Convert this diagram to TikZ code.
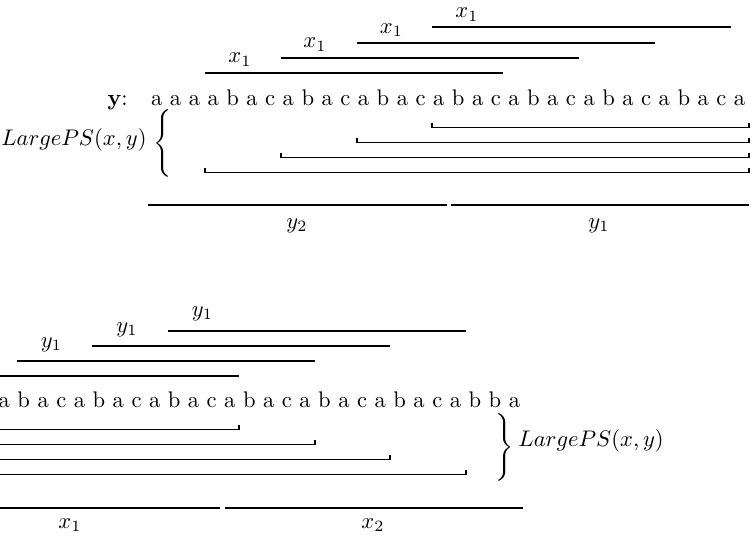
\documentclass[tikz,border=0pt]{standalone}
\begin{document}
\begin{tikzpicture}[x=0.4431pt,y=-0.4431pt,
    bar/.style={line width=0.9pt},
    span/.style={line width=0.45pt},
    lbl/.style={inner sep=0pt,anchor=base},
    txt/.style={inner sep=0pt}]
\useasboundingbox (0,0) rectangle (753,538);
\clip (0,0) rectangle (753,538);

% ---------- upper half: the string y ----------
\node[txt,anchor=base east] (ylab) at (128,105.7) {\textbf{y}:};
\node[txt,anchor=base west] (ystr) at (150.7,105.7)
  {a a a a b a c a b a c a b a c a b a c a b a c a b a c a b a c a};

% occurrences of x_1 above y
\foreach \i/\s/\e/\h/\lx/\ly in {1/205/503/72.7/240/62.7, 2/281/579/58/315/47.7,
                                 3/357/655/42.7/391.5/33.3, 4/432/731/27.3/467/17.7}{
  \coordinate (xa\i) at (\s,\h);
  \coordinate (xb\i) at (\e,\h);
  \draw[bar] (xa\i) -- (xb\i);
  \node[lbl] (xl\i) at (\lx,\ly) {$x_1$};
}

% suffixes of y below it
\foreach \i/\s/\h in {1/432/127.5, 2/357/142.5, 3/281/157.5, 4/205/172.5}{
  \coordinate (sa\i) at (\s,\h);
  \coordinate (sb\i) at (749,\h);
  \draw[span] ([yshift=1.8pt]sa\i) -- (sa\i) -- (sb\i) -- ([yshift=1.8pt]sb\i);
}

\node[txt] (lbr) at (164,143) {$\left\{\vcenter{\hbox{\rule{0pt}{31pt}}}\right.$};
\node[txt,anchor=base east] (lpsA) at (147,145) {$LargePS(x,y)$};

% factorisation y = y_2 y_1
\coordinate (y2a) at (148,205);  \coordinate (y2b) at (447,205);
\coordinate (y1a) at (451,205);  \coordinate (y1b) at (749,205);
\draw[bar] (y2a) -- (y2b);
\draw[bar] (y1a) -- (y1b);
\node[lbl] (y2l) at (297,228) {$y_2$};
\node[lbl] (y1l) at (599,228) {$y_1$};

% ---------- lower half: the string x ----------
\node[txt,anchor=base east] (xstr) at (520.5,407.7)
  {a b a c a b a c a b a c a b a c a b a c a b a c a b b a};

% occurrences of y_1 above x
\foreach \i/\s/\e/\h in {1/168/466/330.7, 2/92/390/346, 3/17/315/360.7, 4/-59/239/375.7}{
  \coordinate (ya\i) at (\s,\h);
  \coordinate (yb\i) at (\e,\h);
  \draw[bar] (ya\i) -- (yb\i);
}
\node[lbl] (yl1) at (202.5,316.4) {$y_1$};
\node[lbl] (yl2) at (127,332.4) {$y_1$};
\node[lbl] (yl3) at (51.5,347) {$y_1$};

% prefixes of x below it
\foreach \i/\e/\h in {1/239/429.5, 2/315/444.5, 3/390/459.5, 4/466/474.5}{
  \coordinate (pa\i) at (-20,\h);
  \coordinate (pb\i) at (\e,\h);
  \draw[span] (pa\i) -- (pb\i) -- ([yshift=1.8pt]pb\i);
}

\node[txt] (rbr) at (503,447) {$\left.\vcenter{\hbox{\rule{0pt}{31pt}}}\right\}$};
\node[txt,anchor=base west] (lpsB) at (518,446.5) {$LargePS(x,y)$};

% factorisation x = x_1 x_2
\coordinate (x1a) at (-5,508);   \coordinate (x1b) at (220,508);
\coordinate (x2a) at (225,508);  \coordinate (x2b) at (523,508);
\draw[bar] (x1a) -- (x1b);
\draw[bar] (x2a) -- (x2b);
\node[lbl] (x1l) at (70,528) {$x_1$};
\node[lbl] (x2l) at (373,528) {$x_2$};
\end{tikzpicture}
\end{document}
